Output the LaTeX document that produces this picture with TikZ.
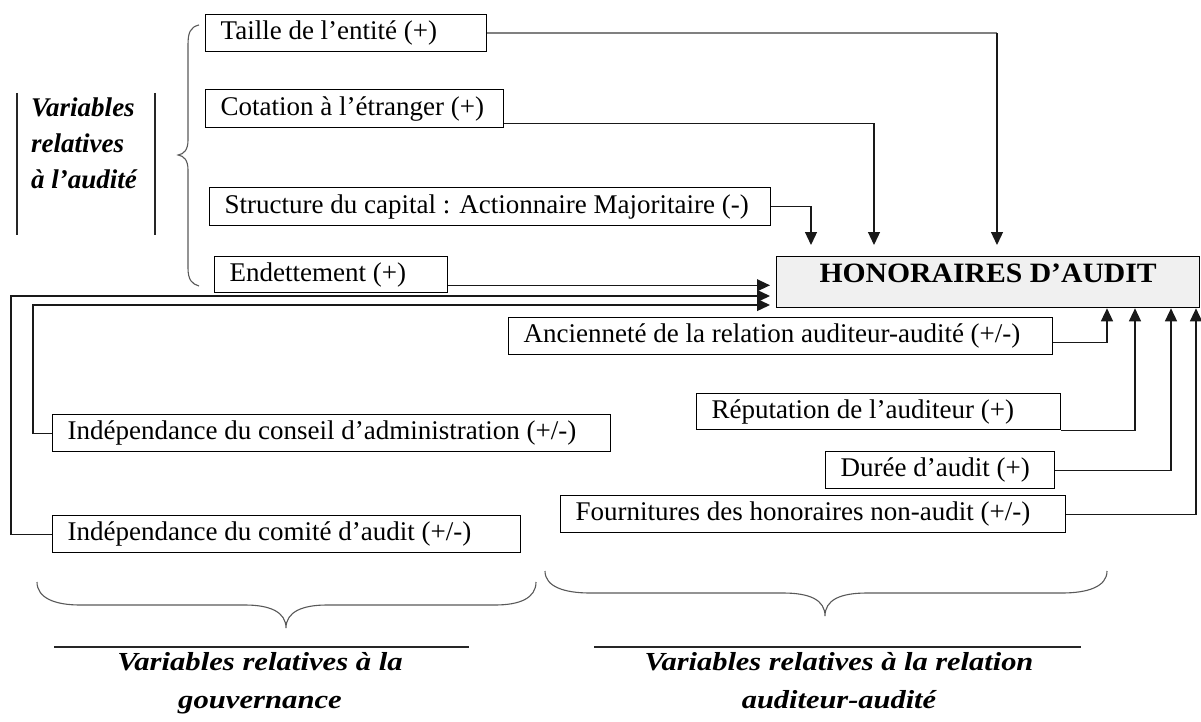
\documentclass[tikz,border=0pt]{standalone}
\usepackage{fontspec}
\setmainfont{Liberation Serif}
\usetikzlibrary{arrows.meta,calc}
\newcommand{\bx}[2]{\makebox[#1][l]{#2}}
\begin{document}
\begin{tikzpicture}[x=1pt,y=-1pt,
 box/.style={draw=black, line width=1.3pt, inner xsep=15pt, inner ysep=0pt, minimum height=37pt, anchor=north west, font=\fontsize{27}{32}\selectfont},
 hbox/.style={draw=black, line width=1.3pt, fill=black!6, minimum width=423pt, minimum height=51pt, anchor=north west, inner sep=0pt},
 conn/.style={draw=black!90, line width=1.3pt},
 arr/.style={conn, -{Triangle[length=13pt,width=12pt]}},
 brc/.style={draw=black!65, line width=1.1pt},
 bar/.style={draw=black!85, line width=1.4pt},
 lbl/.style={font=\fontsize{27}{36}\selectfont\bfseries\itshape, inner sep=0pt},
 blbl/.style={font=\fontsize{26}{36}\selectfont\bfseries\itshape, inner sep=0pt, anchor=base},
]
\useasboundingbox (0,0) rectangle (1201,722);

% boxes
\node[box] (taille) at (205,14) {\bx{251pt}{Taille de l’entité (+)}};
\node[box, minimum height=38pt] (cot) at (205,89) {\bx{268pt}{Cotation à l’étranger (+)}};
\node[box, minimum height=38pt] (struct) at (209,187) {\bx{531pt}{Structure du capital : Actionnaire Majoritaire (-)}};
\node[box, minimum height=36pt] (endet) at (214,256) {\bx{203pt}{Endettement (+)}};
\node[box] (conseil) at (52,414) {\bx{528pt}{Indépendance du conseil d’administration (+/-)}};
\node[box] (comite) at (52,515) {\bx{438pt}{Indépendance du comité d’audit (+/-)}};
\node[box] (anc) at (508,317) {\bx{514pt}{Ancienneté de la relation auditeur-audité (+/-)}};
\node[box, minimum height=36pt] (rep) at (696,393) {\bx{334pt}{Réputation de l’auditeur (+)}};
\node[box] (duree) at (825,451) {\bx{199pt}{Durée d’audit (+)}};
\node[box] (fourn) at (560,495) {\bx{475pt}{Fournitures des honoraires non-audit (+/-)}};
\node[hbox] (hon) at (776,256) {};
\node[font=\fontsize{28}{32}\selectfont\bfseries, anchor=base, inner sep=0pt] (hont) at ($(hon.north)+(0,26)$) {\scalebox{1.06}[1]{HONORAIRES D’AUDIT}};

% top arrows
\coordinate (t1) at ($(hon.north west)+(221,-11)$);
\coordinate (t2) at ($(hon.north west)+(98,-11)$);
\coordinate (t3) at ($(hon.north west)+(35,-11)$);
\coordinate (t1c) at (taille.east -| t1);
\draw[conn, draw=black!50, line width=2pt] (taille.east) -- (t1c);
\draw[arr] (t1c) -- (t1);
\coordinate (c0) at ($(cot.south east)+(0,-5)$);
\draw[arr] (c0) -| (t2);
\draw[arr] (struct.east) -| (t3);

% left arrows
\coordinate (e1) at ($(endet.south east)+(0,-8)$);
\draw[arr, shorten >=6pt] (e1) -- (e1 -| hon.west);
\coordinate (g1) at (11,296);
\draw[arr, shorten >=6pt] (comite.west) -| (g1) -- (g1 -| hon.west);
\coordinate (g2) at (33,305);
\draw[arr, shorten >=6pt] (conseil.west) -| (g2) -- (g2 -| hon.west);

% bottom arrows
\coordinate (a0) at ($(anc.east)+(0,6)$);
\coordinate (b1) at ($(hon.south west)+(331,0)$);
\coordinate (b2) at ($(hon.south west)+(359,0)$);
\coordinate (b3) at ($(hon.south west)+(395,0)$);
\coordinate (b4) at ($(hon.south west)+(420,0)$);
\draw[arr] (a0) -| (b1);
\draw[arr] (rep.south east) -| (b2);
\draw[arr] (duree.east) -| (b3);
\draw[arr] (fourn.east) -| (b4);

% left label
\draw[bar] (17,93) -- (17,235);
\draw[bar] (155,93) -- (155,235);
\node[lbl, anchor=base west] (l1) at (31,117) {Variables};
\node[lbl, anchor=base west] (l2) at (31,153) {relatives};
\node[lbl, anchor=base west] (l3) at (31,189) {à l’audité};

% left brace
\draw[brc] (199,25) .. controls (190,27) and (188,33) .. (188,45) -- (188,140) .. controls (188,150) and (184,154) .. (178,155) .. controls (184,156) and (188,160) .. (188,170) -- (188,268) .. controls (188,280) and (192,284) .. (199,286);

% bottom braces
\draw[brc] (37,582) .. controls (37,598) and (55,605) .. (80,605) -- (245,605) .. controls (270,605) and (286,612) .. (286,628) .. controls (286,612) and (302,605) .. (327,605) -- (495,605) .. controls (520,605) and (536,598) .. (536,582);
\draw[brc] (545,571) .. controls (545,587) and (565,593) .. (590,593) -- (783,593) .. controls (810,593) and (825,600) .. (825,616) .. controls (825,600) and (840,593) .. (867,593) -- (1062,593) .. controls (1087,593) and (1107,587) .. (1107,571);

% bottom lines and labels
\draw[bar, line width=1.6pt] (54,647) -- (469,647);
\draw[bar, line width=1.6pt] (594,647) -- (1081,647);
\node[blbl] (g1t) at (260,670) {\scalebox{1.18}[1]{Variables relatives à la}};
\node[blbl] (g2t) at (260,708) {\scalebox{1.18}[1]{gouvernance}};
\node[blbl] (r1t) at (839,670) {\scalebox{1.17}[1]{Variables relatives à la relation}};
\node[blbl] (r2t) at (839,708) {\scalebox{1.17}[1]{auditeur-audité}};
\end{tikzpicture}
\end{document}
